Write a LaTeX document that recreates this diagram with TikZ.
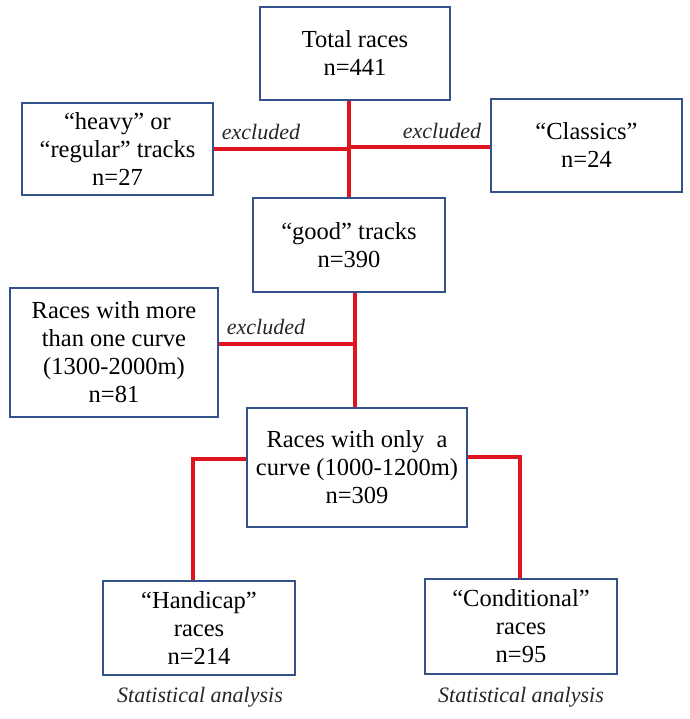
\documentclass[tikz,border=0pt]{standalone}
\usepackage{fontspec}
\setmainfont{Liberation Serif}
\definecolor{boxblue}{RGB}{52,82,138}
\definecolor{linered}{RGB}{222,20,30}
\tikzset{
  box/.style={draw=boxblue, line width=2.6pt, rectangle, inner sep=0pt, align=center,
    font=\fontsize{24.5}{28}\selectfont},
  conn/.style={draw=linered, line width=3.6pt},
  lbl/.style={font=\fontsize{22}{26}\selectfont\itshape, inner sep=0pt, text=black!85}
}
\begin{document}
\begin{tikzpicture}[x=1pt,y=-1pt]
\useasboundingbox (0,0) rectangle (689,719);
\node[box, minimum width=190pt, minimum height=93pt] (tot) at (355,53.5) {Total races\\n=441};
\node[box, minimum width=191pt, minimum height=92pt] (heavy) at (117.5,149) {“heavy” or\\“regular” tracks\\n=27};
\node[box, minimum width=191pt, minimum height=93pt] (cls) at (586.5,145.5) {“Classics”\\n=24};
\node[box, minimum width=192pt, minimum height=94pt] (good) at (349,245) {“good” tracks\\n=390};
\node[box, minimum width=208pt, minimum height=129pt] (more) at (114,352.5) {Races with more\\than one curve\\(1300-2000m)\\n=81};
\node[box, minimum width=220pt, minimum height=119pt] (only) at (357,467.5) {Races with only\ \ a\\curve (1000-1200m)\\n=309};
\node[box, minimum width=192pt, minimum height=94pt] (hand) at (199,628) {“Handicap”\\races\\n=214};
\node[box, minimum width=192pt, minimum height=95pt] (cond) at (521,626.5) {“Conditional”\\races\\n=95};
\coordinate (v1) at (349,0);
\coordinate (v2) at (355,0);
\draw[conn] (tot.south -| v1) -- (good.north -| v1);
\draw[conn] (heavy.east) -- (heavy.east -| v1);
\draw[conn] ([yshift=-1.5pt]cls.west) -- ([yshift=-1.5pt]cls.west -| v1);
\draw[conn] (good.south -| v2) -- (only.north -| v2);
\draw[conn] ([yshift=8.5pt]more.east) -- ([yshift=8.5pt]more.east -| v2);
\draw[conn] ([yshift=8.5pt]only.west) -| ([xshift=-6pt]hand.north);
\draw[conn] ([yshift=10.5pt]only.east) -| ([xshift=-1pt]cond.north);
\node[lbl] (ex1) at (261,132) {excluded};
\node[lbl] (ex2) at (442,131) {excluded};
\node[lbl] (ex3) at (266,327) {excluded};
\node[lbl] (st1) at (200,697) {Statistical analysis};
\node[lbl] (st2) at (521,697) {Statistical analysis};
\end{tikzpicture}
\end{document}
